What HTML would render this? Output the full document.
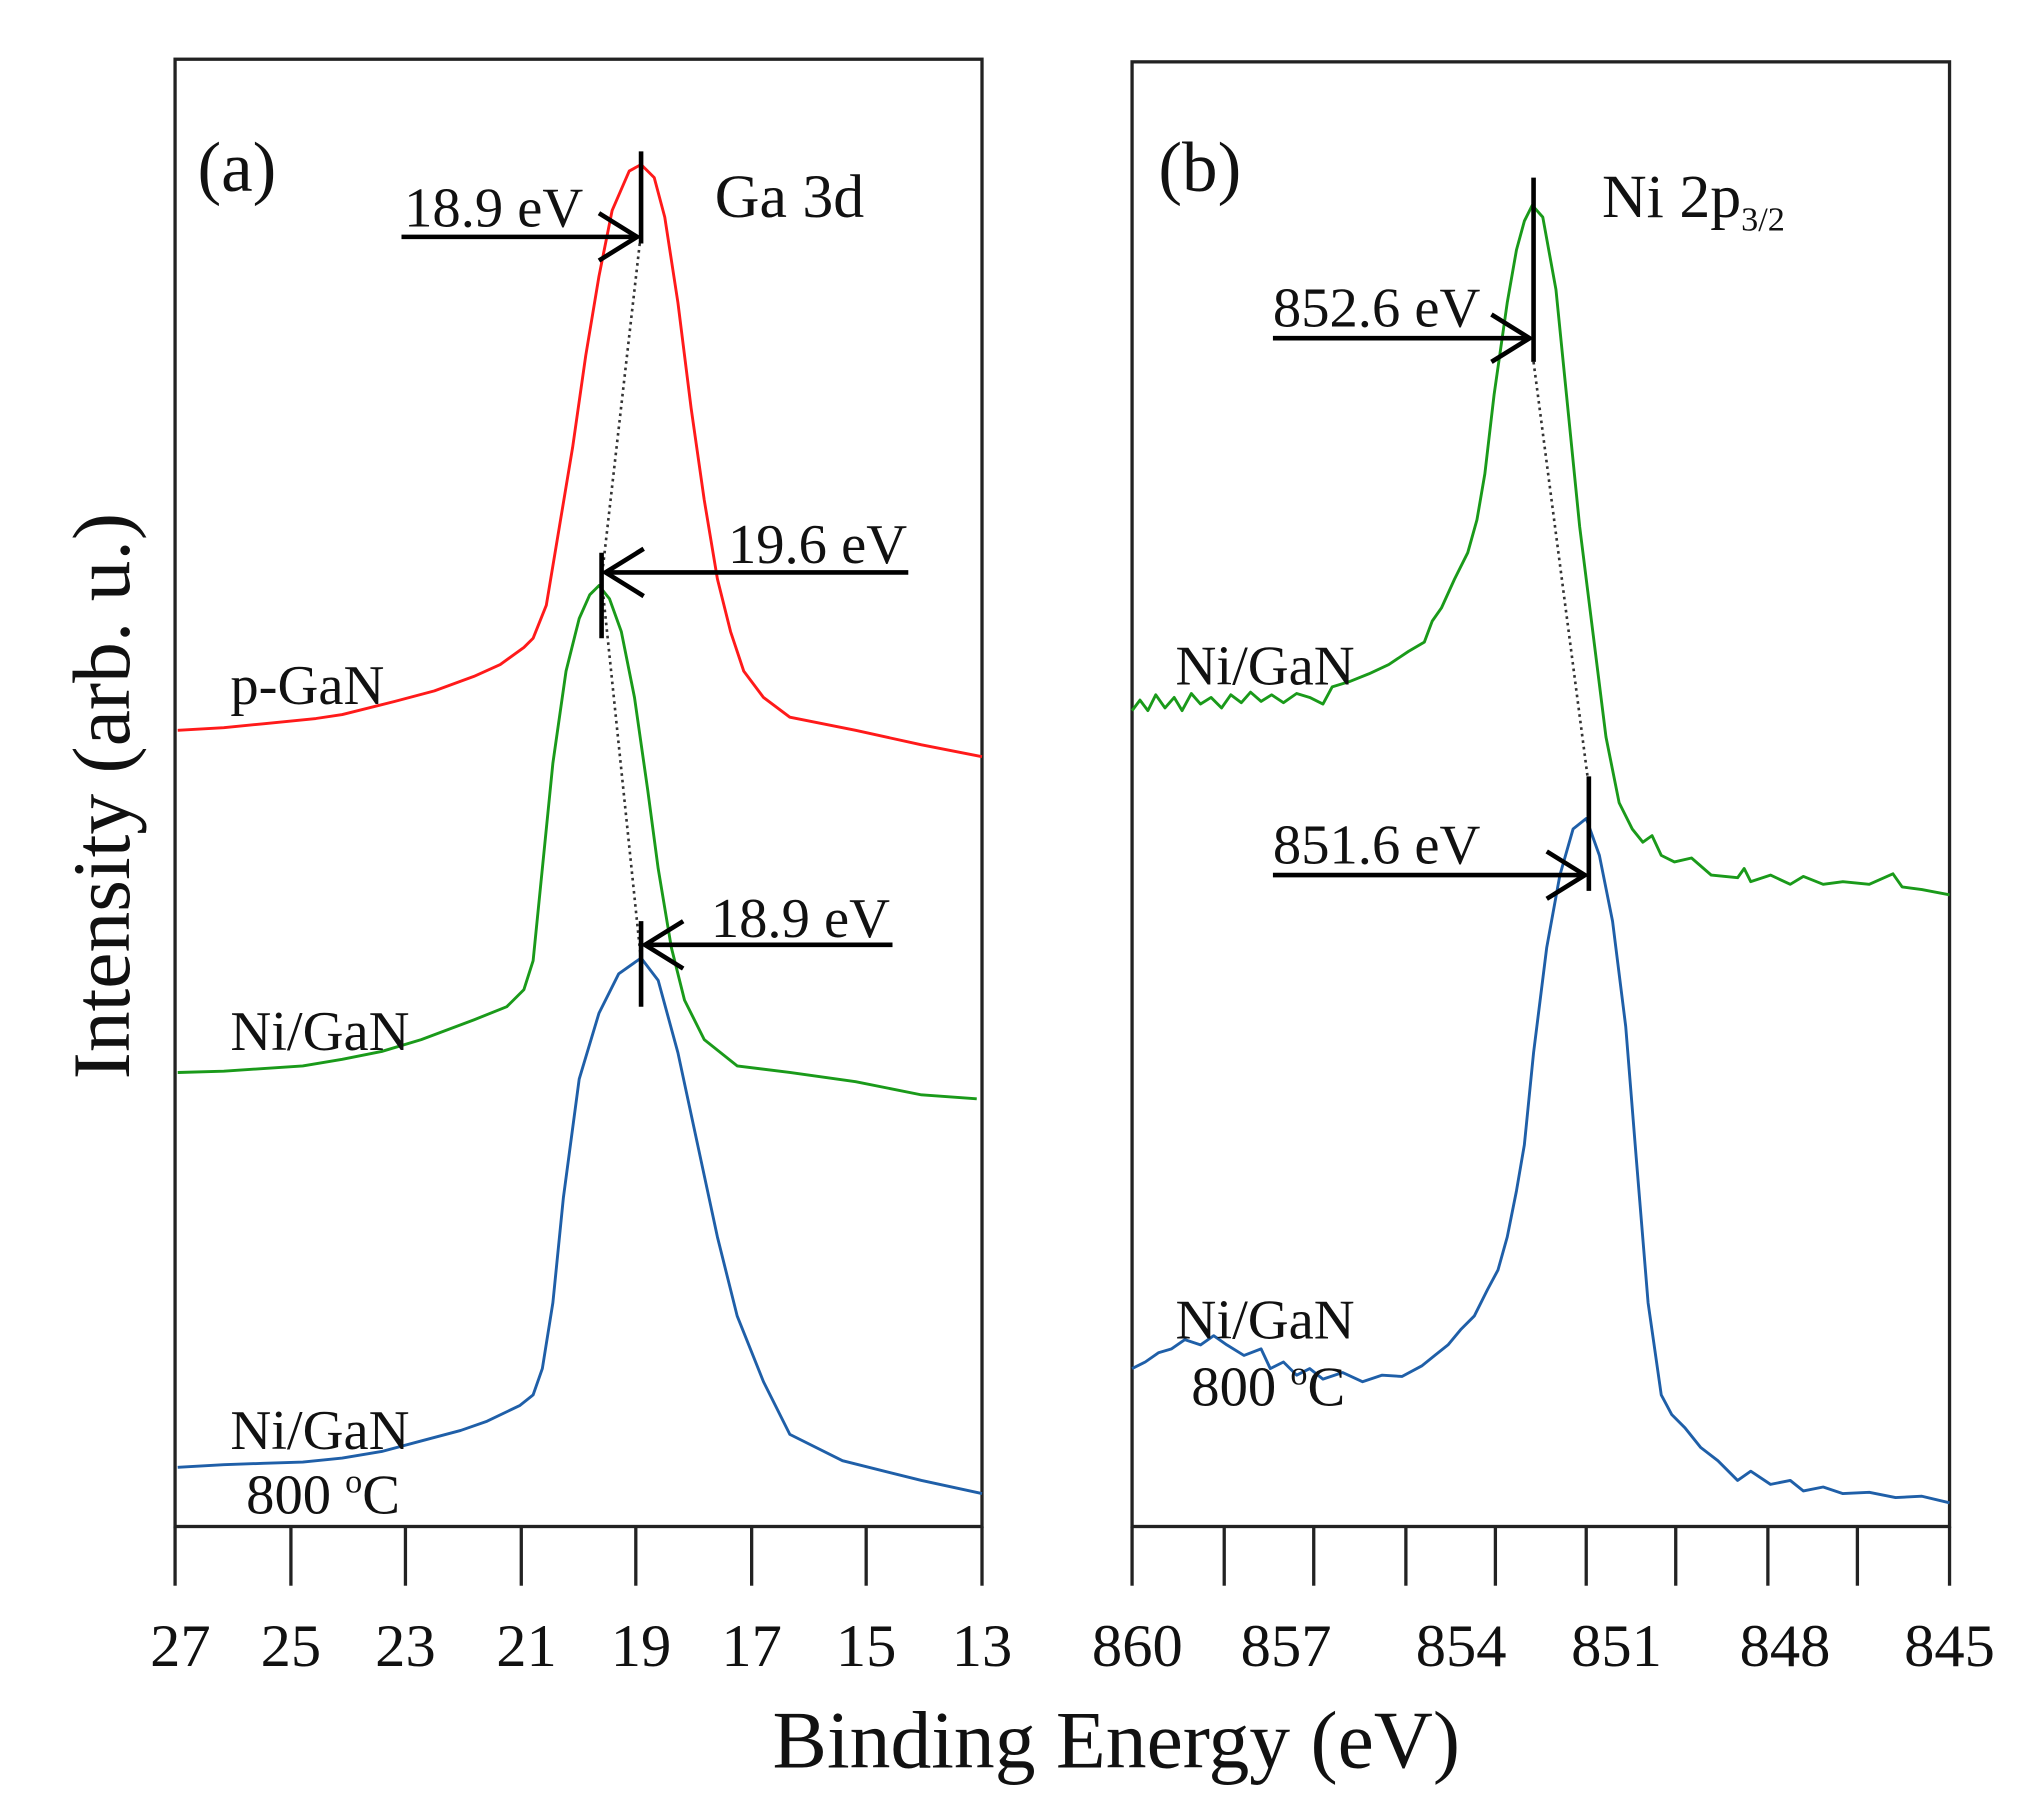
<!DOCTYPE html>
<html><head><meta charset="utf-8"><style>
html,body{margin:0;padding:0;background:#fff;}
svg{display:block;}
text{font-family:"Liberation Serif",serif;fill:#111;}
</style></head><body>
<svg width="2043" height="1816" viewBox="0 0 1552 1380" preserveAspectRatio="none" xmlns="http://www.w3.org/2000/svg">
<rect width="1552" height="1380" fill="#fff"/>
<rect x="133" y="45" width="613" height="1115" fill="none" stroke="#222" stroke-width="2.5"/>
<rect x="860" y="47" width="621" height="1113" fill="none" stroke="#222" stroke-width="2.5"/>
<g stroke="#222" stroke-width="2.5">
<line x1="133" y1="1160" x2="133" y2="1205"/><line x1="221" y1="1160" x2="221" y2="1205"/><line x1="308" y1="1160" x2="308" y2="1205"/><line x1="396" y1="1160" x2="396" y2="1205"/><line x1="483" y1="1160" x2="483" y2="1205"/><line x1="571" y1="1160" x2="571" y2="1205"/><line x1="658" y1="1160" x2="658" y2="1205"/><line x1="746" y1="1160" x2="746" y2="1205"/>
<line x1="860" y1="1160" x2="860" y2="1205"/><line x1="930" y1="1160" x2="930" y2="1205"/><line x1="998" y1="1160" x2="998" y2="1205"/><line x1="1068" y1="1160" x2="1068" y2="1205"/><line x1="1136" y1="1160" x2="1136" y2="1205"/><line x1="1205" y1="1160" x2="1205" y2="1205"/><line x1="1273" y1="1160" x2="1273" y2="1205"/><line x1="1343" y1="1160" x2="1343" y2="1205"/><line x1="1411" y1="1160" x2="1411" y2="1205"/><line x1="1481" y1="1160" x2="1481" y2="1205"/>
</g>
<g font-size="46" text-anchor="middle">
<text x="137" y="1266">27</text><text x="221" y="1266">25</text><text x="308" y="1266">23</text><text x="400" y="1266">21</text><text x="487" y="1266">19</text><text x="571" y="1266">17</text><text x="658" y="1266">15</text><text x="746" y="1266">13</text>
<text x="864" y="1266">860</text><text x="977" y="1266">857</text><text x="1110" y="1266">854</text><text x="1228" y="1266">851</text><text x="1356" y="1266">848</text><text x="1481" y="1266">845</text>
</g>
<text x="848" y="1343" font-size="62" text-anchor="middle">Binding Energy (eV)</text>
<text transform="translate(98,605) rotate(-90)" font-size="62" text-anchor="middle">Intensity (arb. u.)</text>
<g fill="none" stroke-width="2.2" stroke-linejoin="round">
<polyline stroke="#ff1a1a" points="135,555 170,553 200,550 240,546 260,543 300,533 330,525 360,514 380,505 398,492 405,485 415,460 425,400 435,340 445,270 455,210 465,160 478,130 487,125 497,135 505,165 515,230 525,310 535,380 545,440 555,480 565,510 580,530 600,545 650,555 700,566 746,575"/>
<polyline stroke="#1a9a1a" points="135,815 170,814 200,812 230,810 260,805 290,799 320,790 360,775 385,765 398,752 405,730 412,660 420,580 430,510 440,470 448,452 455,445 463,455 472,480 482,530 492,600 500,660 510,720 520,760 535,790 560,810 600,815 650,822 700,832 742,835"/>
<polyline stroke="#1f5fa8" points="135,1115 170,1113 200,1112 230,1111 260,1108 290,1103 320,1095 350,1087 370,1080 395,1068 405,1060 412,1040 420,990 428,910 440,820 455,770 470,740 487,728 500,745 515,800 530,870 545,940 560,1000 580,1050 600,1090 640,1110 700,1125 746,1135"/>
<polyline stroke="#1a9a1a" points="860,540 866,532 872,540 878,528 885,538 892,530 898,540 905,527 912,535 920,530 928,538 935,528 943,534 950,526 958,533 966,528 975,534 985,527 995,530 1005,535 1012,522 1025,518 1040,512 1055,505 1070,495 1082,488 1088,472 1095,462 1105,440 1115,420 1122,395 1128,360 1135,300 1145,230 1152,190 1158,168 1164,156 1172,165 1182,220 1190,300 1200,400 1210,480 1220,560 1230,610 1240,630 1248,640 1255,635 1262,650 1272,655 1285,652 1300,665 1320,667 1325,660 1330,670 1345,665 1360,672 1370,666 1385,672 1400,670 1420,672 1438,664 1445,674 1460,676 1481,680"/>
<polyline stroke="#1f5fa8" points="860,1040 870,1035 880,1028 890,1025 900,1018 912,1022 922,1015 932,1022 945,1030 958,1025 965,1040 975,1035 985,1045 995,1040 1005,1048 1020,1043 1035,1050 1050,1045 1065,1046 1080,1038 1090,1030 1100,1022 1110,1010 1120,1000 1130,980 1138,965 1145,940 1152,905 1158,870 1165,800 1175,720 1185,665 1195,630 1205,622 1215,650 1225,700 1235,780 1243,880 1252,990 1262,1060 1270,1075 1280,1085 1292,1100 1305,1110 1320,1125 1330,1118 1345,1128 1360,1125 1370,1133 1385,1130 1400,1135 1420,1134 1440,1138 1460,1137 1481,1142"/>
</g>
<g fill="none" stroke="#333" stroke-width="2" stroke-dasharray="2,3">
<polyline points="486,185 457,440 487,730"/>
<line x1="1165" y1="275" x2="1206" y2="590"/>
</g>
<g stroke="#000" fill="none" stroke-width="3.5">
<line x1="487" y1="115" x2="487" y2="185"/>
<line x1="305" y1="180" x2="484" y2="180"/><polyline points="455,162 484,180 455,198"/>
<line x1="457" y1="420" x2="457" y2="485"/>
<line x1="690" y1="435" x2="460" y2="435"/><polyline points="489,417 460,435 489,453"/>
<line x1="487" y1="700" x2="487" y2="765"/>
<line x1="678" y1="718" x2="490" y2="718"/><polyline points="519,700 490,718 519,736"/>
<line x1="1165" y1="135" x2="1165" y2="275"/>
<line x1="967" y1="257" x2="1162" y2="257"/><polyline points="1133,239 1162,257 1133,275"/>
<line x1="1207" y1="590" x2="1207" y2="677"/>
<line x1="967" y1="665" x2="1204" y2="665"/><polyline points="1175,647 1204,665 1175,683"/>
</g>
<g font-size="43">
<text x="150" y="145" font-size="54">(a)</text>
<text x="543" y="165" font-size="47">Ga 3d</text>
<text x="307" y="172">18.9 eV</text>
<text x="553" y="428">19.6 eV</text>
<text x="540" y="712">18.9 eV</text>
<text x="175" y="535">p-GaN</text>
<text x="175" y="798">Ni/GaN</text>
<text x="175" y="1101">Ni/GaN</text>
<text x="187" y="1150">800 <tspan font-size="26" dy="-16">o</tspan><tspan dy="16">C</tspan></text>
<text x="880" y="145" font-size="54">(b)</text>
<text x="1217" y="165" font-size="47">Ni 2p<tspan font-size="26" dy="10">3/2</tspan></text>
<text x="967" y="248">852.6 eV</text>
<text x="967" y="656">851.6 eV</text>
<text x="893" y="520">Ni/GaN</text>
<text x="893" y="1017">Ni/GaN</text>
<text x="905" y="1068">800 <tspan font-size="26" dy="-16">o</tspan><tspan dy="16">C</tspan></text>
</g>
</svg>
</body></html>
